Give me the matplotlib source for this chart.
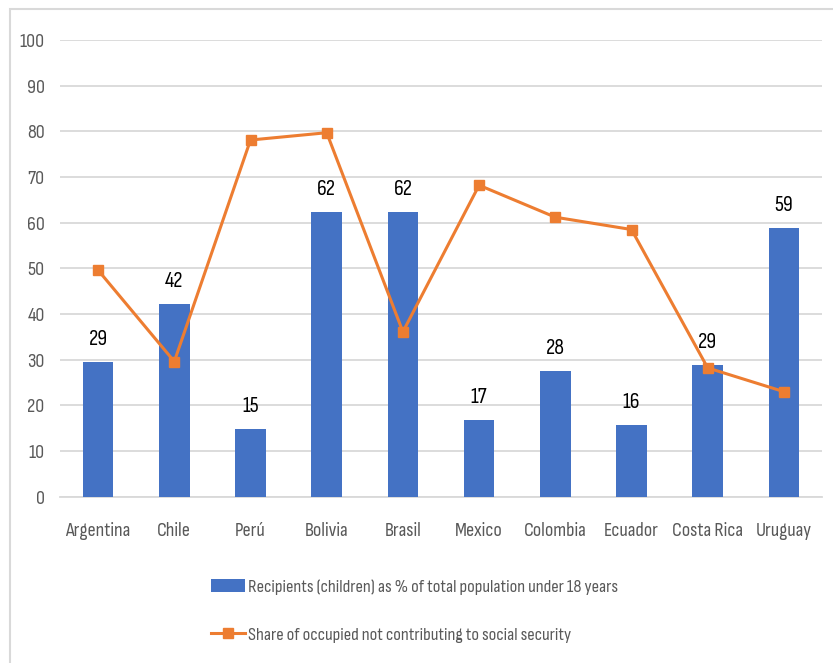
import matplotlib
matplotlib.use("Agg")
import matplotlib.pyplot as plt
from matplotlib.patches import Rectangle
from matplotlib import font_manager

countries = ["Argentina", "Chile", "Perú", "Bolivia", "Brasil", "Mexico",
             "Colombia", "Ecuador", "Costa Rica", "Uruguay"]
recipients = [29.4, 42.3, 14.8, 62.4, 62.4, 16.8, 27.6, 15.6, 28.8, 58.8]
not_contributing = [49.6, 29.6, 78.1, 79.7, 36.1, 68.2, 61.2, 58.5, 28.2, 23.0]
bar_name = "Recipients (children) as % of total population under 18 years"
line_name = "Share of occupied not contributing to social security"
yticks = [0, 10, 20, 30, 40, 50, 60, 70, 80, 90, 100]

names = {f.name for f in font_manager.fontManager.ttflist}
fam = next((f for f in ["Sofia Sans Condensed", "Barlow Condensed", "PT Sans Narrow", "Carlito"]
            if f in names), "DejaVu Sans")
plt.rcParams["font.family"] = [fam, "DejaVu Sans"]

W, H = 833, 663
fig = plt.figure(figsize=(W / 100, H / 100), dpi=100)
ax = fig.add_axes([60 / W, 1 - 496.7 / H, (822 - 60) / W, (496.7 - 40) / H])

# figure frame
fig.patches.append(Rectangle((10 / W, -0.01), 1.0, 1 - 9 / H + 0.01, transform=fig.transFigure,
                             fill=False, edgecolor="#D9D9D9", linewidth=1.5))

x = list(range(len(countries)))
blue = "#4472C4"
orange = "#ED7D31"
bars = ax.bar(x, recipients, width=0.40, color=blue, zorder=3, label=bar_name)
ax.plot(x, not_contributing, color=orange, linewidth=2.2, marker="s", markersize=7,
        zorder=4, label=line_name)

for xi, v in zip(x, recipients):
    ax.annotate(f"{round(v):.0f}", (xi, v), xytext=(0, 13), textcoords="offset pixels",
                ha="center", va="bottom", fontsize=16, color="black", zorder=5)

ax.set_xlim(-0.5, len(countries) - 0.5)
ax.set_ylim(0, 100)
ax.set_yticks(yticks)
ax.set_xticks(x)
ax.set_xticklabels(countries)
ax.grid(axis="y", color="#D9D9D9", linewidth=1.3, zorder=0)
for s in ["top", "right", "left"]:
    ax.spines[s].set_visible(False)
ax.spines["bottom"].set_color("#D9D9D9")
ax.spines["bottom"].set_linewidth(1.3)
ax.tick_params(axis="both", length=0, labelcolor="#595959", labelsize=14.5)
ax.tick_params(axis="x", pad=18)
ax.tick_params(axis="y", pad=11)

leg = fig.legend(handles=[bars, ax.lines[0]], labels=[bar_name, line_name],
                 loc="upper left", bbox_to_anchor=(194 / W, 1 - 562 / H),
                 frameon=False, fontsize=13.3, labelcolor="#595959",
                 handlelength=1.85, handletextpad=0.2, labelspacing=1.75)

fig.savefig("out.png", dpi=100)
